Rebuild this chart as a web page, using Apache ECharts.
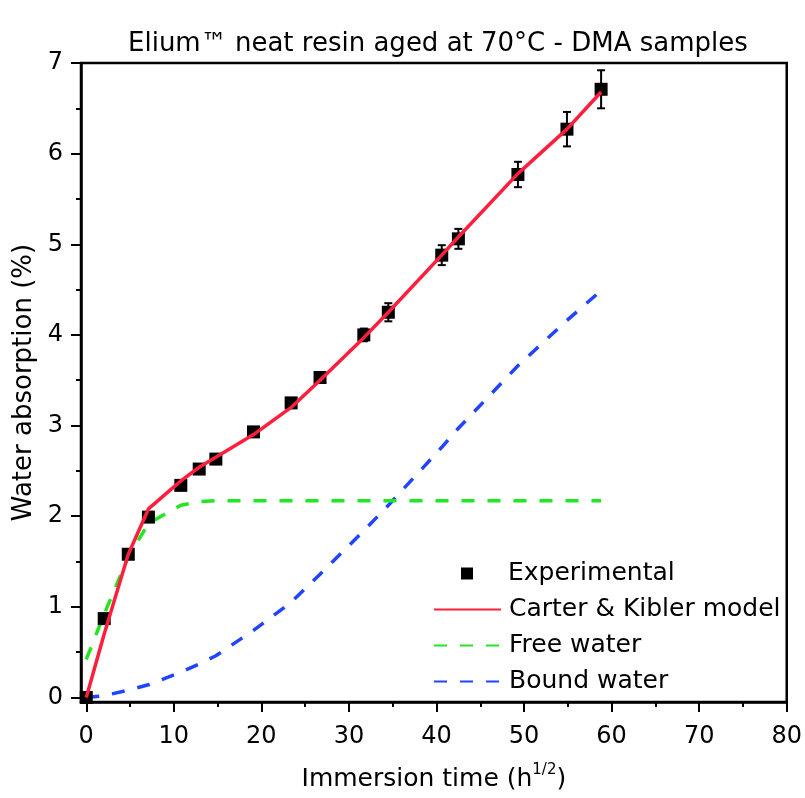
<!DOCTYPE html>
<html>
<head>
<meta charset="utf-8">
<script src="https://cdn.jsdelivr.net/npm/echarts@6/dist/echarts.min.js"></script>
<style>
html,body{margin:0;padding:0;background:#fff}
#chart{width:805px;height:798px}
</style>
</head>
<body>
<div id="chart"></div>
<script>
// immersion time (h^1/2) of every weighing
var timeSqrt = [0, 2.05, 4.8, 7.1, 10.8, 12.9, 14.8, 19.1, 23.4, 26.7, 31.7, 34.5, 40.6, 42.5, 49.3, 54.9, 58.8];
var experimental = [0, 0.87, 1.58, 1.99, 2.34, 2.52, 2.63, 2.93, 3.25, 3.53, 4.00, 4.25, 4.88, 5.06, 5.77, 6.27, 6.71];
var expError = [0.02, 0.02, 0.03, 0.03, 0.03, 0.03, 0.03, 0.04, 0.04, 0.04, 0.07, 0.10, 0.11, 0.11, 0.14, 0.19, 0.21];
var carterKibler = [0, 0.70, 1.58, 2.08, 2.39, 2.54, 2.65, 2.90, 3.20, 3.50, 3.97, 4.25, 4.88, 5.08, 5.78, 6.27, 6.68];
var freeWater = [0.42, 0.92, 1.55, 1.92, 2.12, 2.16, 2.17, 2.17, 2.17, 2.17, 2.17, 2.17, 2.17, 2.17, 2.17, 2.17, 2.17];
var boundWater = [0, 0.02, 0.08, 0.14, 0.28, 0.37, 0.46, 0.74, 1.05, 1.36, 1.84, 2.12, 2.76, 2.97, 3.66, 4.16, 4.49];

var xTicks = [0, 10, 20, 30, 40, 50, 60, 70, 80];
var xMinor = [5, 15, 25, 35, 45, 55, 65, 75];
var yTicks = [0, 1, 2, 3, 4, 5, 6, 7];
var yMinor = [0.5, 1.5, 2.5, 3.5, 4.5, 5.5, 6.5];

var FONT = 'DejaVu Sans';

function pairs(ys) {
  return timeSqrt.map(function (x, i) { return [x, ys[i]]; });
}

var errData = timeSqrt.map(function (x, i) {
  return [x, experimental[i] - expError[i], experimental[i] + expError[i]];
});

var axisLine = {show: true, onZero: false, lineStyle: {color: '#000', width: 2.5}};

var option = {
  animation: false,
  backgroundColor: '#fff',
  title: {
    text: 'Elium™ neat resin aged at 70°C - DMA samples',
    left: 128, top: 31, padding: 0,
    textStyle: {fontFamily: FONT, fontSize: 26, fontWeight: 'normal', color: '#000'}
  },
  grid: {left: 81, right: 17, top: 63, bottom: 96, show: true, borderColor: '#000', borderWidth: 2.5},
  legend: [{
    data: [{name: 'Experimental', icon: 'rect'}],
    left: 461, top: 561, padding: 0,
    itemWidth: 12, itemHeight: 12,
    textStyle: {fontFamily: FONT, fontSize: 25, color: '#000', padding: [0, 0, 0, 30]}
  }, {
    data: ['Carter & Kibler model', 'Free water', 'Bound water'],
    orient: 'vertical', left: 433, top: 595, padding: 0,
    itemWidth: 67, itemHeight: 14, itemGap: 7,
    itemStyle: {opacity: 0},
    textStyle: {fontFamily: FONT, fontSize: 25, color: '#000', lineHeight: 29, padding: [0, 0, 0, 3]}
  }],
  xAxis: [{
    type: 'value', min: -0.6, max: 80,
    name: 'Immersion time (h{sup|1/2})',
    nameLocation: 'middle', nameGap: 61,
    nameTextStyle: {fontFamily: FONT, fontSize: 25, color: '#000',
      rich: {sup: {fontFamily: FONT, fontSize: 15, color: '#000', padding: [0, 0, 18, 0]}}},
    axisLine: axisLine,
    axisTick: {customValues: xTicks, length: 10, lineStyle: {color: '#000', width: 2}},
    axisLabel: {customValues: xTicks, fontFamily: FONT, fontSize: 24, color: '#000', margin: 23},
    splitLine: {show: false}
  }, {
    type: 'value', min: -0.6, max: 80, position: 'bottom',
    axisLine: {show: false, onZero: false},
    axisTick: {customValues: xMinor, length: 5, lineStyle: {color: '#000', width: 2}},
    axisLabel: {show: false},
    splitLine: {show: false}
  }],
  yAxis: [{
    type: 'value', min: -0.05, max: 7,
    name: 'Water absorption (%)',
    nameLocation: 'middle', nameGap: 36,
    nameTextStyle: {fontFamily: FONT, fontSize: 26, color: '#000'},
    axisLine: axisLine,
    axisTick: {customValues: yTicks, length: 10, lineStyle: {color: '#000', width: 2}},
    axisLabel: {customValues: yTicks, fontFamily: FONT, fontSize: 24, color: '#000', margin: 18},
    splitLine: {show: false}
  }, {
    type: 'value', min: -0.05, max: 7, position: 'left',
    axisLine: {show: false, onZero: false},
    axisTick: {customValues: yMinor, length: 5, lineStyle: {color: '#000', width: 2}},
    axisLabel: {show: false},
    splitLine: {show: false}
  }],
  series: [{
    name: 'Bound water', type: 'line', symbol: 'none', z: 2,
    data: pairs(boundWater),
    lineStyle: {color: '#2145ff', width: 3.5, type: [13, 13]},
    itemStyle: {color: '#2145ff'}
  }, {
    name: 'Free water', type: 'line', symbol: 'none', z: 2,
    data: pairs(freeWater),
    lineStyle: {color: '#22e622', width: 3.5, type: [13, 13]},
    itemStyle: {color: '#22e622'}
  }, {
    name: 'Experimental', type: 'scatter', symbol: 'rect', symbolSize: 13, z: 3,
    data: pairs(experimental),
    itemStyle: {color: '#000', opacity: 1}
  }, {
    name: 'err', type: 'custom', z: 4,
    data: errData,
    encode: {x: 0, y: [1, 2]},
    renderItem: function (params, api) {
      var top = api.coord([api.value(0), api.value(2)]);
      var bot = api.coord([api.value(0), api.value(1)]);
      var s = {stroke: '#000', lineWidth: 2};
      var w = 4;
      return {type: 'group', children: [
        {type: 'line', shape: {x1: top[0], y1: top[1], x2: bot[0], y2: bot[1]}, style: s},
        {type: 'line', shape: {x1: top[0] - w, y1: top[1], x2: top[0] + w, y2: top[1]}, style: s},
        {type: 'line', shape: {x1: bot[0] - w, y1: bot[1], x2: bot[0] + w, y2: bot[1]}, style: s}
      ]};
    }
  }, {
    name: 'Carter & Kibler model', type: 'line', symbol: 'none', z: 5,
    data: pairs(carterKibler),
    lineStyle: {color: '#ff1f3d', width: 3.5},
    itemStyle: {color: '#ff1f3d'}
  }]
};

var myChart = echarts.init(document.getElementById('chart'));
myChart.setOption(option);
</script>
</body>
</html>
